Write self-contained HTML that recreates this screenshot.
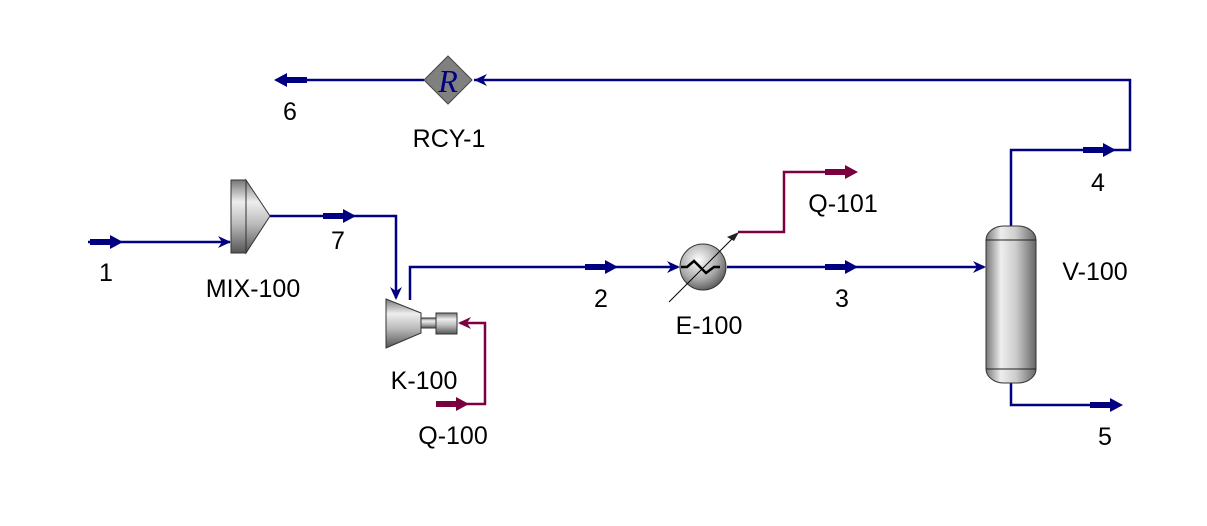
<!DOCTYPE html>
<html><head><meta charset="utf-8"><style>
html,body{margin:0;padding:0;background:#fff;width:1207px;height:526px;overflow:hidden}
text{font-family:"Liberation Sans",sans-serif;font-size:25px;fill:#000}
</style></head><body>
<svg width="1207" height="526" viewBox="0 0 1207 526" xmlns="http://www.w3.org/2000/svg">
<defs>
<linearGradient id="gv" x1="0" x2="1" y1="0" y2="0">
<stop offset="0" stop-color="#777"/><stop offset="0.3" stop-color="#eee"/><stop offset="0.6" stop-color="#ccc"/><stop offset="1" stop-color="#666"/></linearGradient>
<linearGradient id="gh" x1="0" x2="0" y1="0" y2="1">
<stop offset="0" stop-color="#777"/><stop offset="0.3" stop-color="#eee"/><stop offset="0.6" stop-color="#bbb"/><stop offset="1" stop-color="#555"/></linearGradient>
<radialGradient id="gc" cx="0.4" cy="0.35" r="0.7"><stop offset="0" stop-color="#fff"/><stop offset="0.6" stop-color="#aaa"/><stop offset="1" stop-color="#555"/></radialGradient>
</defs>
<g fill="none" stroke="#000080" stroke-width="2.5">
<path d="M88 242H230"/>
<path d="M270 216H396V298"/>
<path d="M410 300V267H678"/>
<path d="M727 267H984"/>
<path d="M1011 226V150H1130V80H474"/>
<path d="M424 80H276"/>
<path d="M1011 383V405H1118"/>
</g>
<g fill="none" stroke="#7a0040" stroke-width="2.5">
<path d="M436 404H485V323H460"/>
<path d="M738 232H784V172H852"/>
</g>
<g fill="#000080">
<rect x="90" y="239" width="22" height="6"/><path d="M110 235L123 242L110 249Z"/>
<rect x="323" y="213" width="22" height="6"/><path d="M343 209L356 216L343 223Z"/>
<rect x="585" y="264" width="22" height="6"/><path d="M605 260L618 267L605 274Z"/>
<rect x="825" y="264" width="22" height="6"/><path d="M845 260L858 267L845 274Z"/>
<rect x="1083" y="147" width="22" height="6"/><path d="M1103 143L1116 150L1103 157Z"/>
<rect x="1090" y="402" width="22" height="6"/><path d="M1110 398L1123 405L1110 412Z"/>
<rect x="285" y="77" width="22" height="6"/><path d="M287 73L274 80L287 87Z"/>
<path d="M231 242L218 236L222 242L218 248Z"/>
<path d="M396 300L390 287L396 291L402 287Z"/>
<path d="M680 267L667 261L671 267L667 273Z"/>
<path d="M986 267L973 261L977 267L973 273Z"/>
<path d="M474 80L487 74L483 80L487 86Z"/>
</g>
<g fill="#7a0040">
<rect x="436" y="401" width="22" height="6"/><path d="M456 397L469 404L456 411Z"/>
<rect x="825" y="169" width="22" height="6"/><path d="M845 165L858 172L845 179Z"/>
<path d="M458 323L471 317L467 323L471 329Z"/>
</g>
<rect x="231" y="180" width="15" height="73" fill="url(#gh)" stroke="#333"/>
<path d="M246 180L270 216L246 253Z" fill="url(#gh)" stroke="#333"/>
<path d="M386 299L421 313V333L386 348Z" fill="url(#gh)" stroke="#333"/>
<rect x="421" y="318" width="15" height="10" fill="url(#gh)" stroke="#333"/>
<rect x="436" y="313" width="21" height="21" fill="url(#gh)" stroke="#333"/>
<circle cx="703" cy="267" r="23" fill="url(#gc)" stroke="#333"/>
<path d="M681 267H687L694 261L706 273L714 267L720 267" fill="none" stroke="#000" stroke-width="2.5"/>
<path d="M669 302L736 235" stroke="#000" stroke-width="1"/>
<path d="M739 232L727 237L734 241Z" fill="#222"/>
<rect x="986" y="226" width="50" height="157" rx="18" ry="14" fill="url(#gv)" stroke="#333"/>
<path d="M986 240H1036M986 369H1036" stroke="#222"/>
<path d="M448 56L472 80L448 104L424 80Z" fill="#808080" stroke="#444"/>
<text x="448" y="92" text-anchor="middle" style="font-family:'Liberation Serif',serif;font-style:italic;font-size:32px;fill:#000080">R</text>
<text x="106" y="281" text-anchor="middle">1</text>
<text x="253" y="297" text-anchor="middle">MIX-100</text>
<text x="338" y="249" text-anchor="middle">7</text>
<text x="424" y="389" text-anchor="middle">K-100</text>
<text x="453" y="444" text-anchor="middle">Q-100</text>
<text x="601" y="307" text-anchor="middle">2</text>
<text x="709" y="334" text-anchor="middle">E-100</text>
<text x="842" y="307" text-anchor="middle">3</text>
<text x="843" y="212" text-anchor="middle">Q-101</text>
<text x="1095" y="280" text-anchor="middle">V-100</text>
<text x="1098" y="191" text-anchor="middle">4</text>
<text x="1105" y="445" text-anchor="middle">5</text>
<text x="290" y="120" text-anchor="middle">6</text>
<text x="449" y="147" text-anchor="middle">RCY-1</text>
</svg>
</body></html>
